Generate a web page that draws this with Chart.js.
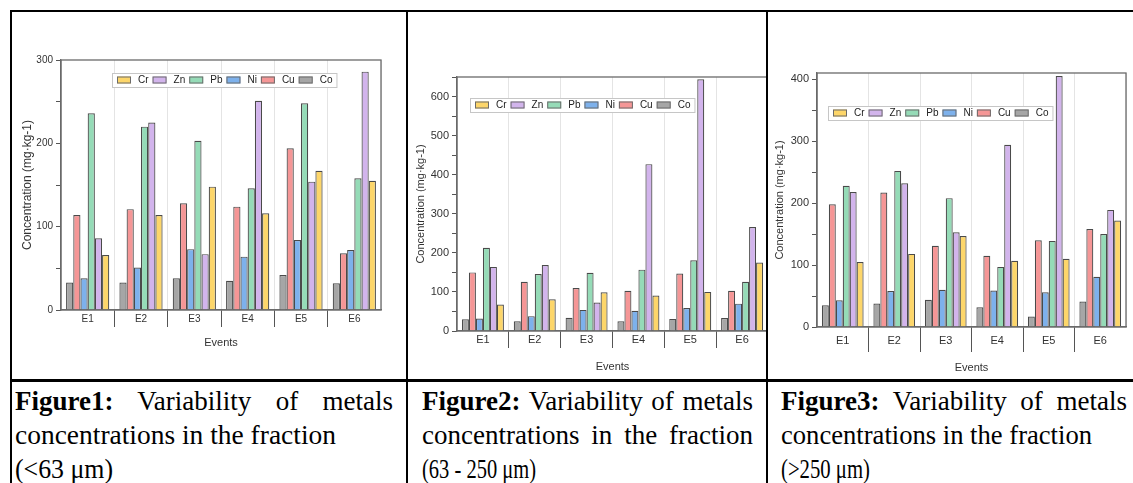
<!DOCTYPE html>
<html>
<head>
<meta charset="utf-8">
<script src="https://cdn.jsdelivr.net/npm/chart.js@4.4.1/dist/chart.umd.min.js"></script>
<style>
  html, body { margin: 0; padding: 0; background: #fff; }
  body { width: 1133px; height: 483px; position: relative; overflow: hidden; }
  .rule { position: absolute; background: #000; }
  .panel { position: absolute; top: 13px; height: 365px; overflow: hidden; }
  .panel canvas { position: absolute; left: 0; top: 0; }
  .cap { position: absolute; font-family: "Liberation Serif", "Times New Roman", serif; font-size: 27px;
         line-height: 27px; white-space: nowrap; color: #000; transform-origin: 0 0; }
  .cap b { font-weight: bold; }
</style>
</head>
<body>
<div class="rule" style="left:10px; top:10px; width:1123px; height:2px;"></div>
<div class="rule" style="left:10px; top:10px; width:2px; height:473px;"></div>
<div class="rule" style="left:406px; top:10px; width:2px; height:473px;"></div>
<div class="rule" style="left:766px; top:10px; width:2px; height:473px;"></div>
<div class="rule" style="left:10px; top:379px; width:1123px; height:3px;"></div>

<div class="panel" style="left:12px; width:394px;"><canvas id="chart1" width="394" height="365"></canvas></div>
<div class="panel" style="left:408px; width:358px;"><canvas id="chart2" width="380" height="365"></canvas></div>
<div class="panel" style="left:768px; width:365px;"><canvas id="chart3" width="365" height="365"></canvas></div>

<div id="captions"></div>

<script>
const events = ['E1', 'E2', 'E3', 'E4', 'E5', 'E6'];
const metals = ['Co', 'Cu', 'Ni', 'Pb', 'Zn', 'Cr'];
const metalColors = ['#a6a6a6', '#f59696', '#7db1ec', '#95dbb7', '#d2b4ec', '#fdd66a'];
const yTicks = [50, 100];

// fraction < 63 µm
const co1 = [33, 33, 38, 35, 42, 32];
const cu1 = [114, 121, 128, 124, 194, 68];
const ni1 = [38, 51, 73, 64, 84, 72];
const pb1 = [236, 220, 203, 146, 248, 158];
const zn1 = [86, 225, 67, 251, 154, 286];
const cr1 = [66, 114, 148, 116, 167, 155];

// fraction 63 - 250 µm
const co2 = [30, 25, 34, 25, 31, 33];
const cu2 = [150, 126, 110, 103, 147, 103];
const ni2 = [32, 38, 54, 52, 59, 70];
const pb2 = [213, 146, 149, 157, 181, 126];
const zn2 = [164, 169, 73, 427, 644, 266];
const cr2 = [68, 81, 99, 91, 100, 175];

// fraction > 250 µm
const co3 = [35, 38, 44, 32, 17, 41];
const cu3 = [198, 217, 131, 115, 140, 158];
const ni3 = [43, 58, 60, 59, 56, 81];
const pb3 = [228, 252, 208, 97, 139, 150];
const zn3 = [218, 232, 153, 294, 405, 189];
const cr3 = [105, 118, 147, 107, 110, 172];

const framePlugin = {
    id: 'frame',
    afterDatasetsDraw(chart) {
        const a = chart.chartArea;
        const ctx = chart.ctx;
        ctx.save();
        ctx.strokeStyle = '#6a6a6a';
        ctx.lineWidth = 1.3;
        ctx.strokeRect(a.left, a.top, a.right - a.left, a.bottom - a.top);
        ctx.restore();
    }
};

const boxLegend = {
    id: 'boxLegend',
    afterDraw(chart, args, opts) {
        const ctx = chart.ctx;
        const items = chart.data.datasets.slice().reverse();
        ctx.save();
        ctx.font = opts.font;
        let w = opts.padX;
        items.forEach((ds) => {
            w += opts.sw + opts.gap + ctx.measureText(ds.label).width + opts.after;
        });
        const x0 = opts.x, y0 = opts.y, h = opts.h;
        ctx.fillStyle = '#fff';
        ctx.fillRect(x0, y0, w, h);
        ctx.strokeStyle = '#c6c6c6';
        ctx.lineWidth = 1;
        ctx.strokeRect(x0 + 0.5, y0 + 0.5, w, h);
        let x = x0 + opts.padX;
        items.forEach((ds) => {
            const sy = y0 + (h - opts.sh) / 2;
            ctx.fillStyle = ds.backgroundColor;
            ctx.fillRect(x, sy, opts.sw, opts.sh);
            ctx.strokeStyle = '#6b6b6b';
            ctx.strokeRect(x + 0.5, sy + 0.5, opts.sw - 1, opts.sh - 1);
            x += opts.sw + opts.gap;
            ctx.fillStyle = '#222';
            ctx.textBaseline = 'middle';
            ctx.fillText(ds.label, x, y0 + h / 2 + 0.5);
            x += ctx.measureText(ds.label).width + opts.after;
        });
        ctx.restore();
    }
};

const font = (size) => ({ family: 'Liberation Sans, Arial, sans-serif', size: size });

const buildChart = (id, series, opt) => {
    const canvas = document.getElementById(id);
    const W = canvas.width, H = canvas.height;
    return new Chart(canvas, {
        type: 'bar',
        data: {
            labels: events,
            datasets: metals.map((m, i) => ({
                label: m,
                data: series[i],
                backgroundColor: metalColors[i],
                borderColor: '#4a4a4a',
                borderWidth: 1.2,
                categoryPercentage: 0.81,
                barPercentage: 1
            }))
        },
        options: {
            responsive: false,
            animation: false,
            devicePixelRatio: 1,
            layout: { padding: { left: 0, top: opt.plot.top, right: W - opt.plot.right, bottom: 0 } },
            plugins: {
                legend: { display: false },
                tooltip: { enabled: false },
                boxLegend: opt.legend
            },
            scales: {
                x: {
                    offset: true,
                    grid: {
                        offset: true,
                        color: '#e4e4e4',
                        lineWidth: 1,
                        tickLength: opt.sepLen,
                        tickColor: (c) => (c.type === 'tick' && c.index > 0) ? '#555' : 'rgba(0,0,0,0)'
                    },
                    border: { color: '#6a6a6a', width: 1.3 },
                    ticks: { font: font(opt.xFont), color: '#333', padding: opt.xPad },
                    title: {
                        display: true, text: 'Events', font: font(11), color: '#333',
                        padding: { top: 0, bottom: opt.xTitlePad }
                    },
                    afterFit: (s) => { s.height = H - opt.plot.bottom; }
                },
                y: {
                    min: 0,
                    max: opt.yMax,
                    grid: {
                        drawOnChartArea: false,
                        tickLength: 5,
                        tickColor: (c) => (c.tick && c.tick.value % yTicks[0] === 0) ? '#555' : 'rgba(0,0,0,0)'
                    },
                    border: { color: '#6a6a6a', width: 1.3 },
                    ticks: {
                        stepSize: yTicks[0],
                        maxTicksLimit: 30,
                        includeBounds: false,
                        autoSkip: false,
                        font: font(opt.yFont),
                        color: '#333',
                        padding: 3,
                        callback: (v) => (v % yTicks[1] === 0 ? v : '')
                    },
                    title: {
                        display: true, text: 'Concentration (mg·kg-1)', font: font(opt.yTitleFont), color: '#333',
                        padding: { top: opt.yTitlePad, bottom: 0 }
                    },
                    afterFit: (s) => { s.width = opt.plot.left; }
                }
            }
        },
        plugins: [framePlugin, boxLegend]
    });
};

buildChart('chart1', [co1, cu1, ni1, pb1, zn1, cr1], {
    plot: { left: 49, top: 47, right: 369, bottom: 297 },
    yMax: 300, xFont: 10, yFont: 10, yTitleFont: 12, yTitlePad: 8,
    xPad: -14, sepLen: 17, xTitlePad: 28,
    legend: { x: 100, y: 60, h: 14, padX: 5, sw: 14, sh: 7, gap: 7, after: 4, font: '10px Liberation Sans' }
});

buildChart('chart2', [co2, cu2, ni2, pb2, zn2, cr2], {
    plot: { left: 49, top: 64, right: 360, bottom: 318 },
    yMax: 650, xFont: 11, yFont: 11, yTitleFont: 11, yTitlePad: 6,
    xPad: -15, sepLen: 17, xTitlePad: 4,
    legend: { x: 62, y: 85, h: 14, padX: 5, sw: 14, sh: 7, gap: 7, after: 4, font: '10px Liberation Sans' }
});

buildChart('chart3', [co3, cu3, ni3, pb3, zn3, cr3], {
    plot: { left: 49, top: 60, right: 358, bottom: 314 },
    yMax: 410, xFont: 11, yFont: 11, yTitleFont: 11, yTitlePad: 5,
    xPad: -18, sepLen: 25, xTitlePad: 3,
    legend: { x: 60, y: 93, h: 14, padX: 5, sw: 14, sh: 7, gap: 7, after: 4, font: '10px Liberation Sans' }
});

// caption lines: [html, left, baseline, width, justify]
const captionLines = [
    ['<b>Figure1:</b> Variability of metals', 15, 410, 378, true],
    ['concentrations in the fraction', 15, 444, 321, false],
    ['(&lt;63 μm)', 15, 478, 98, false],
    ['<b>Figure2:</b> Variability of metals', 422, 410, 331, true],
    ['concentrations in the fraction', 422, 444, 331, true],
    ['(63 - 250 μm)', 422, 478, 114, false],
    ['<b>Figure3:</b> Variability of metals', 781, 410, 346, true],
    ['concentrations in the fraction', 781, 444, 311, false],
    ['(&gt;250 μm)', 781, 478, 89, false]
];

const capBox = document.getElementById('captions');
captionLines.forEach(([html, left, base, width, justify]) => {
    const el = document.createElement('div');
    el.className = 'cap';
    el.innerHTML = html;
    el.style.left = left + 'px';
    el.style.top = (base - 22) + 'px';
    capBox.appendChild(el);
    const w = el.getBoundingClientRect().width;
    const spaces = (el.textContent.match(/ /g) || []).length;
    if (justify && w < width && spaces > 0) {
        el.style.wordSpacing = ((width - w) / spaces) + 'px';
    } else {
        el.style.transform = 'scaleX(' + (width / w) + ')';
    }
});
</script>
</body>
</html>
